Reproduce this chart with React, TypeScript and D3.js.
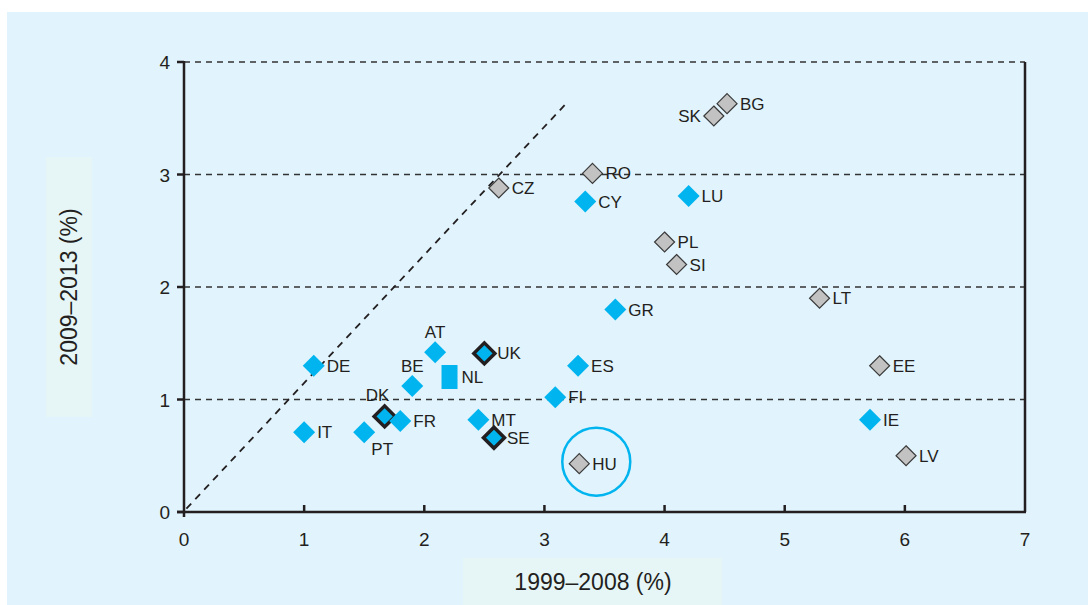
import * as d3 from "d3";

// country codes, x = 1999–2008 (%), y = 2009–2013 (%)
const codes = ["DE", "IT", "PT", "DK", "FR", "BE", "AT", "NL", "UK", "MT", "SE", "ES", "FI", "HU", "CZ", "RO", "CY", "LU", "SK", "BG", "PL", "SI", "GR", "LT", "EE", "IE", "LV"];
const xVals = [1.08, 1.0, 1.5, 1.67, 1.8, 1.9, 2.09, 2.21, 2.5, 2.45, 2.58, 3.28, 3.09, 3.29, 2.62, 3.4, 3.34, 4.2, 4.41, 4.52, 4.0, 4.1, 3.59, 5.29, 5.79, 5.71, 6.01];
const yVals = [1.3, 0.71, 0.71, 0.85, 0.81, 1.12, 1.42, 1.2, 1.41, 0.82, 0.66, 1.3, 1.02, 0.43, 2.88, 3.01, 2.76, 2.81, 3.52, 3.63, 2.4, 2.2, 1.8, 1.9, 1.3, 0.82, 0.5];
// group: "b" blue, "k" blue with bold outline, "g" grey, "n" blue bar
const groups = ["b", "b", "b", "k", "b", "b", "b", "n", "k", "b", "k", "b", "b", "g", "g", "g", "b", "b", "g", "g", "g", "g", "b", "g", "g", "b", "g"];
// label placement: r right, l left, t above, tl above-left, br below-right
const labelPos = ["r", "r", "br", "tl", "r", "t", "t", "r", "r", "r", "r", "r", "r", "r", "r", "r", "r", "r", "l", "r", "r", "r", "r", "r", "r", "r", "r"];

const xTicks = [0, 1, 2, 3, 4, 5, 6, 7];
const yTicks = [0, 1, 2, 3, 4];
const diagLine: [number, number][] = [[0.02, 0.03], [3.18, 3.63]];
const highlighted = "HU";

const W = 1088;
const H = 605;
const BLUE = "#00b5ef";
const GREY = "#c2c2c2";
const INK = "#231f20";
const FONT = "'Liberation Sans', Arial, sans-serif";

export default function App() {
  const x = d3.scaleLinear().domain([0, 7]).range([184, 1025]);
  const y = d3.scaleLinear().domain([0, 4]).range([512, 62]);

  const pts = codes.map((c, i) => ({ c, x: x(xVals[i]), y: y(yVals[i]), g: groups[i], lp: labelPos[i] }));
  const diamond = (cx: number, cy: number, r: number) =>
    `M${cx},${cy - r}L${cx + r},${cy}L${cx},${cy + r}L${cx - r},${cy}Z`;
  const line = d3.line<[number, number]>().x((d) => x(d[0])).y((d) => y(d[1]));

  const hu = pts.find((p) => p.c === highlighted)!;

  return (
    <svg width={W} height={H} style={{ position: "absolute", left: 0, top: 0 }} fontFamily={FONT}>
      <rect x={0} y={0} width={W} height={H} fill="#fff" />
      <rect x={7} y={12} width={W - 7} height={H - 12} fill="#e1f3fc" />
      {/* axis title boxes */}
      <rect x={46} y={157} width={46} height={260} fill="#e6f5f6" />
      <rect x={463} y={558} width={259} height={47} fill="#e6f5f6" />

      {/* grid */}
      {yTicks.filter((t) => t > 0).map((t) => (
        <line key={t} x1={x(0)} x2={x(7)} y1={y(t)} y2={y(t)} stroke="#333" strokeWidth={1.3} strokeDasharray="6,5" />
      ))}

      {/* diagonal */}
      <path d={line(diagLine) ?? ""} fill="none" stroke={INK} strokeWidth={1.8} strokeDasharray="7,6" />

      {/* axes */}
      <line x1={x(0)} x2={x(0)} y1={y(4) - 1} y2={y(0) + 5} stroke={INK} strokeWidth={2.5} />
      <line x1={x(7)} x2={x(7)} y1={y(4)} y2={y(0)} stroke={INK} strokeWidth={2.5} />
      <line x1={x(0) - 7} x2={x(7) + 1} y1={y(0)} y2={y(0)} stroke={INK} strokeWidth={2.5} />
      {yTicks.map((t) => (
        <g key={t}>
          <line x1={x(0) - 7} x2={x(0)} y1={y(t)} y2={y(t)} stroke={INK} strokeWidth={2.5} />
          <text x={x(0) - 14} y={y(t) + 7} textAnchor="end" fontSize={19} fill={INK}>{t}</text>
        </g>
      ))}
      {xTicks.map((t) => (
        <g key={t}>
          {t > 0 && t < 7 && <line x1={x(t)} x2={x(t)} y1={y(0)} y2={y(0) - 7} stroke={INK} strokeWidth={2.5} />}
          <text x={x(t)} y={y(0) + 34} textAnchor="middle" fontSize={19} fill={INK}>{t}</text>
        </g>
      ))}

      <text x={593} y={590} textAnchor="middle" fontSize={23} fill={INK}>1999–2008 (%)</text>
      <text transform={`translate(77,287) rotate(-90)`} textAnchor="middle" fontSize={23} fill={INK}>2009–2013 (%)</text>

      {/* HU circle */}
      <circle cx={hu.x + 17} cy={hu.y - 2} r={34} fill="none" stroke={BLUE} strokeWidth={2.5} />

      {/* markers */}
      {pts.map((p) => {
        if (p.g === "n")
          return <rect key={p.c} x={p.x - 8} y={p.y - 12} width={16} height={24} fill={BLUE} />;
        if (p.g === "g")
          return <path key={p.c} d={diamond(p.x, p.y, 10)} fill={GREY} stroke="#3a3a3a" strokeWidth={1.2} />;
        if (p.g === "k")
          return <path key={p.c} d={diamond(p.x, p.y, 10.5)} fill={BLUE} stroke={INK} strokeWidth={3.5} />;
        return <path key={p.c} d={diamond(p.x, p.y, 11)} fill={BLUE} />;
      })}

      {/* labels */}
      {pts.map((p) => {
        let lx = p.x + 13;
        let ly = p.y + 6;
        let anchor: "start" | "end" | "middle" = "start";
        if (p.lp === "l") { lx = p.x - 13; anchor = "end"; }
        if (p.lp === "t") { lx = p.x; ly = p.y - 14; anchor = "middle"; }
        if (p.lp === "tl") { lx = p.x - 7; ly = p.y - 15; anchor = "middle"; }
        if (p.lp === "br") { lx = p.x + 18; ly = p.y + 23; anchor = "middle"; }
        if (p.g === "n") lx = p.x + 12;
        return (
          <text key={p.c} x={lx} y={ly} textAnchor={anchor} fontSize={17} fill={INK}>{p.c}</text>
        );
      })}
    </svg>
  );
}
